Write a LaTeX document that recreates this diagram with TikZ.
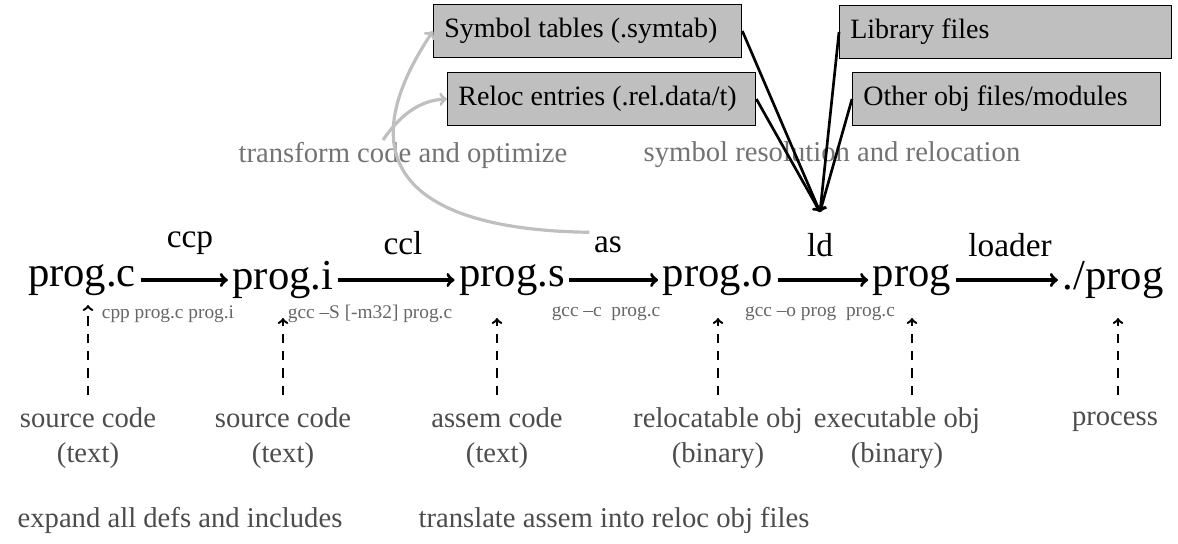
\documentclass[tikz,border=0pt]{standalone}
\usepackage{fontspec}
\setmainfont{Liberation Serif}
\usetikzlibrary{positioning,arrows}
\begin{document}
\begin{tikzpicture}[
	  x=0.75pt, y=-0.75pt,
	  %style for arrows
	  arrw/.style={line width=2.6pt, ->, >=to},
	  dasharrw/.style={line width=1.8pt, ->, >=to, dash pattern=on 7pt off 6pt},
	  % style for boxes
	  bx/.style={rectangle, fill=black!25, draw=black, line width=1pt, anchor=north west, inner sep=0pt, font=\rmfamily\fontsize{21}{23}\selectfont},
	  % styles for texts
	  stage/.style={font=\rmfamily\fontsize{32}{34}\selectfont},
	  tool/.style={font=\rmfamily\fontsize{25}{27}\selectfont},
	  cmd/.style={font=\rmfamily\fontsize{14.5}{16}\selectfont, text=black!60},
	  lbl/.style={font=\rmfamily\fontsize{21.5}{26}\selectfont, text=black!70, align=center},
	  gr/.style={font=\rmfamily\fontsize{21.5}{24}\selectfont, text=black!55}]
	  \useasboundingbox (0,0) rectangle (1178,543);

	  %nodes
	  \node[stage](progc) at (82,280){prog.c};
	  \node[stage](progi) at (283,280){prog.i};
	  \node[stage](progs) at (512,280){prog.s};
	  \node[stage](progo) at (718,280){prog.o};
	  \node[stage](prog) at (912,280){prog};
	  \node[stage](run) at (1113,280){./prog};

	  \node[tool](ccp) at (190,243){ccp};
	  \node[tool](ccl) at (403,243){ccl};
	  \node[tool](as) at (608,245){as};
	  \node[tool](ld) at (820,245){ld};
	  \node[tool](loader) at (1010,245){loader};

	  \node[cmd](c1) at (168,314){cpp prog.c prog.i};
	  \node[cmd](c2) at (370,314){gcc --S [-m32] prog.c};
	  \node[cmd](c3) at (606,314){gcc --c\ \ prog.c};
	  \node[cmd](c4) at (820,314){gcc --o prog\ \ prog.c};

	  \node[lbl](l1) at (88,438){source code\\(text)};
	  \node[lbl](l2) at (283,438){source code\\(text)};
	  \node[lbl](l3) at (497,438){assem code\\(text)};
	  \node[lbl](l4) at (718,438){relocatable obj\\(binary)};
	  \node[lbl](l5) at (897,438){executable obj\\(binary)};
	  \node[lbl](l6) at (1115,422){process};

	  \node[lbl](b1) at (180,520){expand all defs and includes};
	  \node[lbl](b2) at (614,520){translate assem into reloc obj files};
	  \node[gr](t1) at (403,155){transform code and optimize};
	  \node[gr](t2) at (832,155){symbol resolution and relocation};

	  \node[bx](symtab) at (433,4){\parbox[c][39.5pt][c]{231pt}{\hspace{8pt}Symbol tables (.symtab)}};
	  \node[bx](reloc) at (447,72){\parbox[c][39.5pt][c]{231pt}{\hspace{8pt}Reloc entries (.rel.data/t)}};
	  \node[bx](lib) at (839,5){\parbox[c][39.5pt][c]{249pt}{\hspace{8pt}Library files}};
	  \node[bx](other) at (852,72){\parbox[c][39.5pt][c]{231pt}{\hspace{8pt}Other obj files/modules}};
	  \coordinate (merge) at (820,212);

	  %edges
	  \draw[arrw](progc) -- (progi);
	  \draw[arrw](progi) -- (progs);
	  \draw[arrw](progs) -- (progo);
	  \draw[arrw](progo) -- (prog);
	  \draw[arrw](prog) -- (run);
	  \foreach \x/\y in {88/305, 283/318, 497/318, 718/318, 912/318, 1118/318}
	    \draw[dasharrw](\x,395) -- (\x,\y);
	  \draw[line width=2pt, ->, >=to](symtab.east) -- (merge);
	  \draw[line width=2pt, ->, >=to](reloc.east) -- (merge);
	  \draw[line width=2pt, ->, >=to](lib.west) -- (merge);
	  \draw[line width=2pt, ->, >=to](other.west) -- (merge);
	  \draw[black!25, line width=2.4pt, ->, >=to](as.north west) .. controls (420,230) and (340,170) .. (symtab.west);
	  \draw[black!25, line width=2.4pt, ->, >=to](383,140) .. controls (400,115) and (420,100) .. (reloc.west);
\end{tikzpicture}
\end{document}
